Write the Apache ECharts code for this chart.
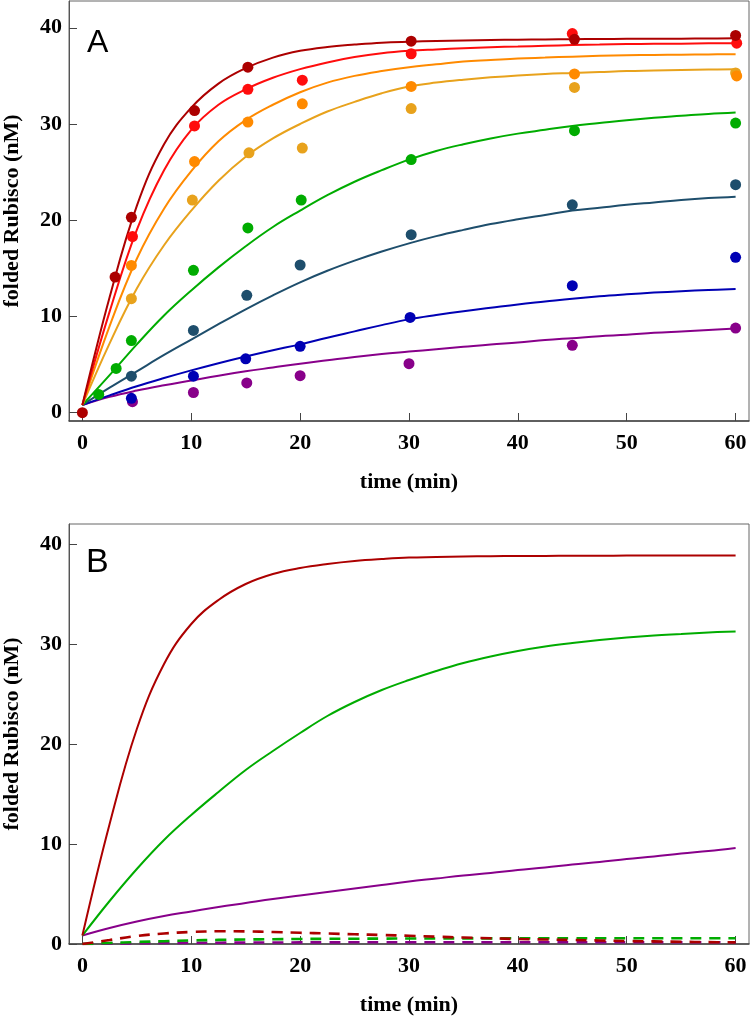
<!DOCTYPE html>
<html>
<head>
<meta charset="utf-8">
<script src="https://cdn.jsdelivr.net/npm/echarts@6/dist/echarts.min.js"></script>
<style>
  html, body { margin: 0; padding: 0; background: #fff; }
  #chart { width: 750px; height: 1023px; }
</style>
</head>
<body>
<div id="chart"></div>
<script>
// ---------- tick labels ----------
const xTicks = [0, 10, 20, 30, 40, 50, 60];
const yTicks = [0, 10, 20, 30, 40];

// ---------- Panel A: measured points [time, folded Rubisco] ----------
const ptsDarkRed = [[0,0],[3.0,14.1],[4.5,20.3],[10.3,31.4],[15.2,35.9],[30.2,38.6],[45.2,38.8],[60,39.2]];
const ptsRed     = [[4.6,18.3],[10.3,29.8],[15.2,33.6],[20.2,34.55],[30.2,37.3],[45.0,39.4],[60.1,38.4]];
const ptsOrange  = [[4.5,15.3],[10.3,26.1],[15.2,30.2],[20.2,32.1],[30.2,33.9],[45.2,35.2],[60.1,35.0]];
const ptsGold    = [[4.5,11.85],[10.1,22.1],[15.3,27.0],[20.2,27.5],[30.2,31.6],[45.2,33.8],[60,35.3]];
const ptsGreen   = [[1.5,1.9],[3.1,4.6],[4.5,7.5],[10.2,14.8],[15.2,19.2],[20.1,22.1],[30.2,26.3],[45.2,29.3],[60,30.1]];
const ptsSlate   = [[4.5,3.8],[10.2,8.55],[15.1,12.2],[20.0,15.35],[30.2,18.5],[45.0,21.6],[60,23.7]];
const ptsBlue    = [[4.5,1.5],[10.2,3.8],[15.0,5.6],[20.0,6.9],[30.1,9.9],[45.0,13.2],[60,16.15]];
const ptsPurple  = [[4.6,1.15],[10.2,2.1],[15.1,3.1],[20.0,3.85],[30.0,5.1],[45.0,7.0],[60,8.8]];

const curveT = [0,2.5,5,7.5,10,12.5,15,17.5,20,22.5,25,27.5,30,32.5,35,37.5,40,42.5,45,47.5,50,52.5,55,57.5,60];
const fitDarkRed = [0.8,12.0,21.5,27.9,31.7,34.2,35.8,36.9,37.6,38.0,38.25,38.45,38.55,38.62,38.68,38.72,38.76,38.79,38.81,38.83,38.85,38.86,38.87,38.88,38.9];
const fitRed     = [0.8,10.5,19.0,25.2,29.4,32.0,33.6,34.8,35.7,36.4,36.95,37.35,37.6,37.75,37.88,37.98,38.05,38.13,38.2,38.25,38.3,38.33,38.35,38.38,38.4];
const fitOrange  = [0.8,9.0,16.0,21.2,25.1,28.2,30.4,32.0,33.3,34.3,35.0,35.5,35.9,36.2,36.5,36.65,36.8,36.9,37.0,37.08,37.15,37.18,37.2,37.23,37.25];
const fitGold    = [0.8,7.2,12.9,17.4,21.0,24.1,26.6,28.5,30.0,31.3,32.3,33.2,33.9,34.3,34.6,34.85,35.05,35.2,35.3,35.4,35.5,35.55,35.6,35.65,35.7];
const fitGreen   = [0.8,3.9,7.1,10.1,12.7,15.1,17.3,19.3,21.0,22.6,24.0,25.2,26.3,27.2,27.9,28.5,29.0,29.4,29.8,30.1,30.4,30.65,30.85,31.05,31.2];
const fitSlate   = [0.8,2.6,4.3,6.0,7.6,9.2,10.75,12.2,13.55,14.75,15.8,16.75,17.6,18.35,19.0,19.6,20.1,20.55,21.0,21.3,21.6,21.85,22.1,22.3,22.45];
const fitBlue    = [0.8,1.8,2.75,3.6,4.4,5.15,5.85,6.5,7.1,7.8,8.45,9.1,9.7,10.15,10.55,10.9,11.25,11.55,11.85,12.1,12.3,12.48,12.62,12.75,12.85];
const fitPurple  = [0.8,1.65,2.3,2.85,3.35,3.85,4.3,4.7,5.1,5.45,5.8,6.1,6.35,6.6,6.85,7.1,7.3,7.55,7.75,7.95,8.1,8.3,8.45,8.6,8.75];

const bDarkRed = [0.85,12.0,21.5,28.0,32.0,34.4,36.0,37.0,37.6,38.0,38.3,38.5,38.65,38.7,38.75,38.78,38.8,38.81,38.82,38.83,38.84,38.845,38.85,38.855,38.86];
const bGreen   = [0.85,4.3,7.5,10.4,12.9,15.2,17.4,19.3,21.1,22.8,24.2,25.4,26.4,27.3,28.1,28.75,29.3,29.75,30.1,30.4,30.65,30.85,31.0,31.15,31.26];
const bPurple  = [0.85,1.6,2.25,2.8,3.25,3.7,4.1,4.5,4.85,5.2,5.55,5.9,6.25,6.55,6.85,7.1,7.4,7.65,7.95,8.2,8.5,8.75,9.05,9.3,9.6];
const bDarkRedDash = [0,0.4,0.8,1.05,1.2,1.27,1.26,1.2,1.12,1.05,0.97,0.9,0.82,0.73,0.65,0.57,0.5,0.45,0.4,0.35,0.3,0.26,0.22,0.19,0.16];
const bGreenDash   = [0,0.1,0.2,0.28,0.36,0.41,0.45,0.48,0.5,0.52,0.53,0.54,0.55,0.555,0.56,0.565,0.57,0.57,0.57,0.57,0.57,0.57,0.57,0.57,0.57];
const bPurpleDash  = [0,0.035,0.07,0.1,0.12,0.13,0.14,0.15,0.16,0.165,0.17,0.175,0.18,0.18,0.18,0.18,0.18,0.18,0.18,0.18,0.18,0.18,0.18,0.18,0.18];

// ---------- colours ----------
const C = {
  darkred: '#ac0000', red: '#ff0d0d', orange: '#ff8a00', gold: '#e8a21c',
  green: '#00ac00', slate: '#1e4e6c', blue: '#0000b4', purple: '#88008a'
};

const zip = (ys) => curveT.map((t, i) => [t, ys[i]]);
const serif = 'Liberation Serif';

function curve(name, ys, color, xi, dashed) {
  return {
    name, type: 'line', xAxisIndex: xi, yAxisIndex: xi, data: zip(ys),
    smooth: 0.4, showSymbol: false, silent: true,
    lineStyle: { color, width: dashed ? 2.6 : 2, type: dashed ? [11, 8] : 'solid' },
    z: 2
  };
}
function points(name, pts, color) {
  return {
    name, type: 'scatter', xAxisIndex: 0, yAxisIndex: 0, data: pts,
    symbol: 'circle', symbolSize: 11, itemStyle: { color, opacity: 1 }, z: 3
  };
}

function xAxis(gi) {
  return {
    type: 'value', gridIndex: gi, min: -1.23, max: 61.23,
    name: 'time (min)', nameLocation: 'middle', nameGap: 50,
    nameTextStyle: { fontFamily: serif, fontWeight: 'bold', fontSize: 22, color: '#000' },
    axisLine: { show: true, onZero: false, lineStyle: { color: '#444', width: 1.5 } },
    axisTick: { show: true, inside: true, length: 8, customValues: xTicks, lineStyle: { color: '#444' } },
    axisLabel: { customValues: xTicks, margin: 11, fontFamily: serif, fontWeight: 'bold', fontSize: 22, color: '#000' },
    splitLine: { show: false }
  };
}
function yAxis(gi, min, max) {
  return {
    type: 'value', gridIndex: gi, min, max,
    name: 'folded Rubisco (nM)', nameLocation: 'middle', nameGap: 46, nameRotate: 90,
    nameTextStyle: { fontFamily: serif, fontWeight: 'bold', fontSize: 22, color: '#000' },
    axisLine: { show: true, onZero: false, lineStyle: { color: '#555', width: 1 } },
    axisTick: { show: true, inside: true, length: 8, customValues: yTicks, lineStyle: { color: '#444' } },
    axisLabel: { customValues: yTicks, margin: 7, fontFamily: serif, fontWeight: 'bold', fontSize: 22, color: '#000' },
    splitLine: { show: false }
  };
}

const chart = echarts.init(document.getElementById('chart'), null, { renderer: 'canvas' });
chart.setOption({
  animation: false,
  backgroundColor: '#fff',
  title: [
    { text: 'A', left: 82, top: 22, textStyle: { fontFamily: 'Liberation Sans', fontWeight: 'normal', fontSize: 32, color: '#000' } },
    { text: 'B', left: 81, top: 541, textStyle: { fontFamily: 'Liberation Sans', fontWeight: 'normal', fontSize: 34, color: '#000' } }
  ],
  grid: [
    { left: 69, top: 1, width: 680, height: 420, outerBoundsMode: 'none', containLabel: false,
      show: true, borderColor: '#666', borderWidth: 1, backgroundColor: 'transparent' },
    { left: 69, top: 524, width: 680, height: 420, outerBoundsMode: 'none', containLabel: false,
      show: true, borderColor: '#666', borderWidth: 1, backgroundColor: 'transparent' }
  ],
  xAxis: [xAxis(0), xAxis(1)],
  yAxis: [yAxis(0, -0.86, 42.78), yAxis(1, 0, 42.0)],
  series: [
    curve('fit purple', fitPurple, C.purple, 0),
    curve('fit blue', fitBlue, C.blue, 0),
    curve('fit slate', fitSlate, C.slate, 0),
    curve('fit green', fitGreen, C.green, 0),
    curve('fit gold', fitGold, C.gold, 0),
    curve('fit orange', fitOrange, C.orange, 0),
    curve('fit red', fitRed, C.red, 0),
    curve('fit darkred', fitDarkRed, C.darkred, 0),
    points('purple', ptsPurple, C.purple),
    points('blue', ptsBlue, C.blue),
    points('slate', ptsSlate, C.slate),
    points('green', ptsGreen, C.green),
    points('gold', ptsGold, C.gold),
    points('orange', ptsOrange, C.orange),
    points('red', ptsRed, C.red),
    points('darkred', ptsDarkRed, C.darkred),
    curve('B purple', bPurple, C.purple, 1),
    curve('B green', bGreen, C.green, 1),
    curve('B darkred', bDarkRed, C.darkred, 1),
    curve('B purple dashed', bPurpleDash, C.purple, 1, true),
    curve('B green dashed', bGreenDash, C.green, 1, true),
    curve('B darkred dashed', bDarkRedDash, C.darkred, 1, true)
  ]
});
</script>
</body>
</html>
